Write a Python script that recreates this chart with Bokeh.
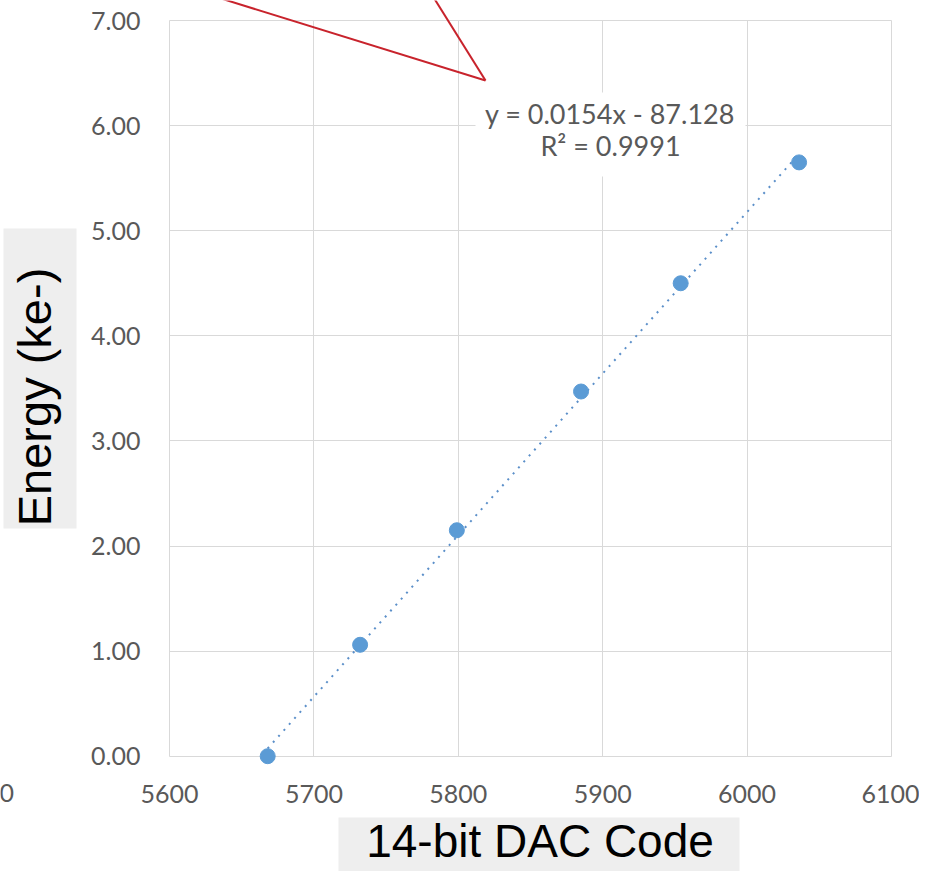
import numpy as np
from bokeh.plotting import figure
from bokeh.models import Range1d, FixedTicker, NumeralTickFormatter, Label, Arrow, BoxAnnotation
from bokeh.embed import file_html
from bokeh.resources import INLINE

# ---- data ----
dac_code = [5668, 5732, 5799, 5885, 5954, 6036]
energy = [0.00, 1.06, 2.15, 3.47, 4.50, 5.65]
x_ticks = [5600, 5700, 5800, 5900, 6000, 6100]
y_ticks = [0, 1, 2, 3, 4, 5, 6, 7]
fit_line1 = "y = 0.0154x - 87.128"
fit_line2 = "R² = 0.9991"
x_title = "14-bit DAC Code"
y_title = "Energy (ke-)"

X0, X1 = 5600, 6100
Y0, Y1 = 0, 7

# ---- layout: the frame fills the canvas; plot area is placed via the ranges ----
W, H = 919, 871
PL, PR, PT, PB = 169, 891, 20, 755.7   # plot-area edges in pixels
kx = (X1 - X0) / (PR - PL)
ky = (Y1 - Y0) / (PB - PT)
xs, xe = X0 - PL * kx, X0 + (W - PL) * kx
ye, ys = Y1 + PT * ky, Y0 - (H - PB) * ky
BL = 0.44  # baseline correction, fraction of font size


def dx(px):
    return xs + px * kx


def dy(py):
    return ye - py * ky


p = figure(width=W, height=H, min_border=0,
           x_range=Range1d(xs, xe), y_range=Range1d(ys, ye),
           output_backend="svg", toolbar_location=None)

p.background_fill_color = "white"
p.border_fill_color = "white"
p.outline_line_color = None

GRID = "#d9d9d9"
TICK_COLOR = "#595959"
TICK_FONT = "Lato"

p.xgrid.ticker = FixedTicker(ticks=x_ticks)
p.ygrid.ticker = FixedTicker(ticks=y_ticks)
p.xgrid.grid_line_color = GRID
p.ygrid.grid_line_color = GRID
p.xgrid.cross_bounds = (Y0, Y1)
p.ygrid.cross_bounds = (X0, X1)

for ax in (p.xaxis[0], p.yaxis[0]):
    ax.axis_line_color = None
    ax.major_tick_line_color = None
    ax.minor_tick_line_color = None
    ax.major_tick_in = 0
    ax.major_tick_out = 0
    ax.major_label_text_font = TICK_FONT
    ax.major_label_text_font_size = "25px"
    ax.major_label_text_color = TICK_COLOR
    ax.major_label_standoff = 29

p.xaxis.ticker = FixedTicker(ticks=x_ticks)
p.yaxis.ticker = FixedTicker(ticks=y_ticks)
p.yaxis.formatter = NumeralTickFormatter(format="0.00")
p.xaxis.fixed_location = Y0
p.yaxis.fixed_location = X0
p.xaxis.bounds = (X0, X1)
p.yaxis.bounds = (Y0, Y1)

# trendline (least squares from the data, as the spreadsheet did)
slope, intercept = np.polyfit(dac_code, energy, 1)
tx = [min(dac_code), max(dac_code)]
ty = [slope * v + intercept for v in tx]
p.line(tx, ty, line_color="#5b8fc9", line_width=2, line_dash="2 6")

p.scatter(dac_code, energy, size=15, fill_color="#5b9bd5", line_color="#5b9bd5")

# white box behind the fit text
p.add_layout(BoxAnnotation(left=dx(475), right=dx(745), top=dy(92), bottom=dy(176),
                           fill_color="white", fill_alpha=1, line_color=None))

for txt, bx, by in ((fit_line1, 609.5, 125), (fit_line2, 610, 157)):
    p.add_layout(Label(x=dx(bx), y=dy(by - BL * 27), text=txt, text_align="center",
                       text_baseline="alphabetic", text_font=TICK_FONT,
                       text_font_size="27px", text_color=TICK_COLOR))

# red callout lines
for sx, sy in ((194.7, -10), (428.75, -10)):
    p.add_layout(Arrow(x_start=dx(sx), y_start=dy(sy), x_end=dx(485), y_end=dy(80),
                       end=None, line_color="#c8232c", line_width=2))

# axis title boxes
p.add_layout(BoxAnnotation(left=dx(3), right=dx(76), top=dy(228), bottom=dy(528),
                           fill_color="#eeeeee", fill_alpha=1, line_color=None))
p.add_layout(BoxAnnotation(left=dx(338), right=dx(739), top=dy(817), bottom=dy(885),
                           fill_color="#eeeeee", fill_alpha=1, line_color=None))

p.add_layout(Label(x=dx(55 - BL * 47), y=dy(396.5), text=y_title, angle=np.pi / 2,
                   text_align="center", text_baseline="alphabetic",
                   text_font="Liberation Sans", text_font_size="47px",
                   text_color="black"))
p.add_layout(Label(x=dx(539.5), y=dy(861 - BL * 46), text=x_title,
                   text_align="center", text_baseline="alphabetic",
                   text_font="Liberation Sans", text_font_size="46px",
                   text_color="black"))

# partial tick label at the far left (cut off in the source image)
p.add_layout(Label(x=dx(13.5), y=dy(803 - BL * 25), text="0", text_align="right",
                   text_baseline="alphabetic", text_font=TICK_FONT,
                   text_font_size="25px", text_color=TICK_COLOR))

open("out.html", "w").write(file_html(p, INLINE))
